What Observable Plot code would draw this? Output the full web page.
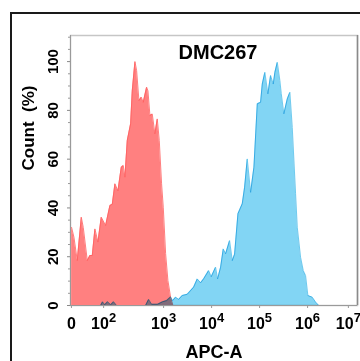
<!DOCTYPE html>
<html>
<head>
<meta charset="utf-8">
<script src="https://cdn.jsdelivr.net/npm/d3@7"></script>
<script src="https://cdn.jsdelivr.net/npm/@observablehq/plot@0.6"></script>
<style>
  html, body { margin: 0; padding: 0; background: white; }
  #wrap { position: relative; width: 360px; height: 361px; overflow: hidden; background: white; }
  #border { position: absolute; left: 10px; top: 12px; width: 400px; height: 400px;
            border-left: 2px solid #1a1a1a; border-top: 2px solid #1a1a1a; pointer-events: none; }
</style>
</head>
<body>
<div id="wrap"><div id="border"></div></div>
<script>
// Histogram positions are in display "decade" units (10^k sits at k on the APC-A axis)
const redPos = [1.083,1.132,1.201,1.285,1.326,1.410,1.465,1.514,1.569,1.632,1.701,1.792,1.882,1.931,1.986,2.049,2.118,2.160,2.194,2.243,2.313,2.347,2.403,2.438,2.486,2.535,2.576,2.646,2.674,2.715,2.764,2.819,2.868,2.910,2.958,2.993,3.042,3.090,3.146,3.194];
const redCount = [32,28,18.4,36.2,32,18.4,20.5,20.5,31.4,26,36.2,32.8,41,41.5,49.9,47,56.7,57.4,52.6,67.6,74.5,88,100,96.3,84,85.4,83.3,89.5,88,77.9,78.5,70.4,76.5,67.6,49.9,40.3,21.3,10.2,3.4,0];

const bluePos = [1.688,1.729,1.771,1.833,1.896,1.958,2.021,2.625,2.688,2.750,2.875,2.979,3.063,3.146,3.188,3.250,3.313,3.389,3.493,3.625,3.701,3.771,3.833,3.938,3.993,4.083,4.125,4.188,4.243,4.292,4.375,4.431,4.479,4.549,4.639,4.688,4.743,4.813,4.882,4.952,5.021,5.056,5.110,5.173,5.229,5.285,5.319,5.369,5.423,5.452,5.506,5.577,5.631,5.681,5.750,5.785,5.854,5.910,5.958,6.006,6.098,6.167,6.235];
const blueCount = [0,1.5,0.3,1.5,0.3,1.5,0,0,2.5,0.5,0.5,1.5,2,3.5,2,3.4,2.5,4.1,4.6,7.5,10.9,9.3,10.9,14.3,11.8,15.7,10.9,15.7,23.2,21.2,26.6,18.4,21,37.6,41.7,48.5,60.1,46.4,56.7,82.7,83.3,90.8,95.6,86.8,94.3,90.8,95.6,99.7,92.2,86.8,78.6,84.7,87.4,73,45.8,32.1,19.8,14.3,12.3,4.1,3.4,1.4,0];

const xDomain = [1.06, 7.04];
const yDomain = [0, 110.7];
const xTickPos = [1.08, 1.75, 3, 4, 5, 6, 6.85];
const xTickLabels = ["0", "10|2", "10|3", "10|4", "10|5", "10|6", "10|7"];
const yMajor = [0, 20, 40, 60, 80, 100];
const yMinor = [5,10,15,25,30,35,45,50,55,65,70,75,85,90,95,105,110];
const title = "DMC267";
const xLabel = "APC-A";
const yLabel = "Count\u00a0 (%)";

const red = redPos.map((x, i) => ({x, v: redCount[i]}));
const blue = bluePos.map((x, i) => ({x, v: blueCount[i]}));

const font = "'Liberation Sans', Arial, sans-serif";

const chart = Plot.plot({
  width: 360, height: 361,
  marginLeft: 70, marginTop: 35, marginRight: 3, marginBottom: 56,
  style: {fontFamily: font, background: "white", overflow: "visible"},
  x: {domain: xDomain, label: null},
  y: {domain: yDomain, label: null},
  marks: [
    Plot.frame({stroke: "#c6c6c6", strokeWidth: 1.5}),
    Plot.areaY(red, {x: "x", y: "v", fill: "#ff8080"}),
    Plot.lineY(red, {x: "x", y: "v", stroke: "#ff5e5e", strokeWidth: 0.8}),
    Plot.areaY(blue, {x: "x", y: "v", fill: "#82d5f4", mixBlendMode: "multiply"}),
    Plot.lineY(blue, {x: "x", y: "v", stroke: "#4dbfea", strokeWidth: 0.8, mixBlendMode: "multiply"}),
    Plot.ruleX([xDomain[1]], {stroke: "#8a8a8a", strokeWidth: 1.5}),
    Plot.ruleX([xDomain[0]], {stroke: "#9a9a9a"}),
    Plot.ruleY([0], {stroke: "#9a9a9a"}),
    Plot.axisY(yMinor, {tickSize: 2, text: null, label: null, stroke: "#9a9a9a"}),
    Plot.axisY(yMajor, {tickSize: 3, text: null, label: null, stroke: "#888"}),
    Plot.text(yMajor, {y: d => d, text: d => String(d), frameAnchor: "left", dx: -17, rotate: -90,
      textAnchor: "middle", lineAnchor: "middle", fontSize: 15, fontWeight: "bold", fill: "black"}),
    Plot.axisX(xTickPos, {tickSize: 3, tickPadding: 9, fontSize: 16, fontWeight: "bold", stroke: "#9a9a9a", fill: "black",
      label: null, tickFormat: d => xTickLabels[xTickPos.indexOf(d)]}),
    Plot.text([title], {text: d => d, frameAnchor: "top", dx: 4, dy: 9, lineAnchor: "top",
      fontSize: 20, fontWeight: "bold", fill: "black"}),
    Plot.text([xLabel], {text: d => d, frameAnchor: "bottom", dy: 52, lineAnchor: "bottom",
      fontSize: 18, fontWeight: "bold", fill: "black"}),
    Plot.text([yLabel], {text: d => d, frameAnchor: "left", dx: -42, rotate: -90, lineAnchor: "middle",
      fontSize: 17, fontWeight: "bold", fill: "black"})
  ]
});

// Turn "10|k" tick labels into 10 with a raised exponent
d3.select(chart).selectAll('[aria-label="x-axis tick label"] text').each(function() {
  const t = d3.select(this);
  t.attr("font-weight", "bold").attr("fill", "black");
  const s = t.text();
  if (s.includes("|")) {
    const [base, exp] = s.split("|");
    t.text(base);
    t.append("tspan").attr("dy", "-7").attr("font-size", 13).text(exp);
  }
});

document.getElementById("wrap").insertBefore(chart, document.getElementById("border"));
</script>
</body>
</html>
